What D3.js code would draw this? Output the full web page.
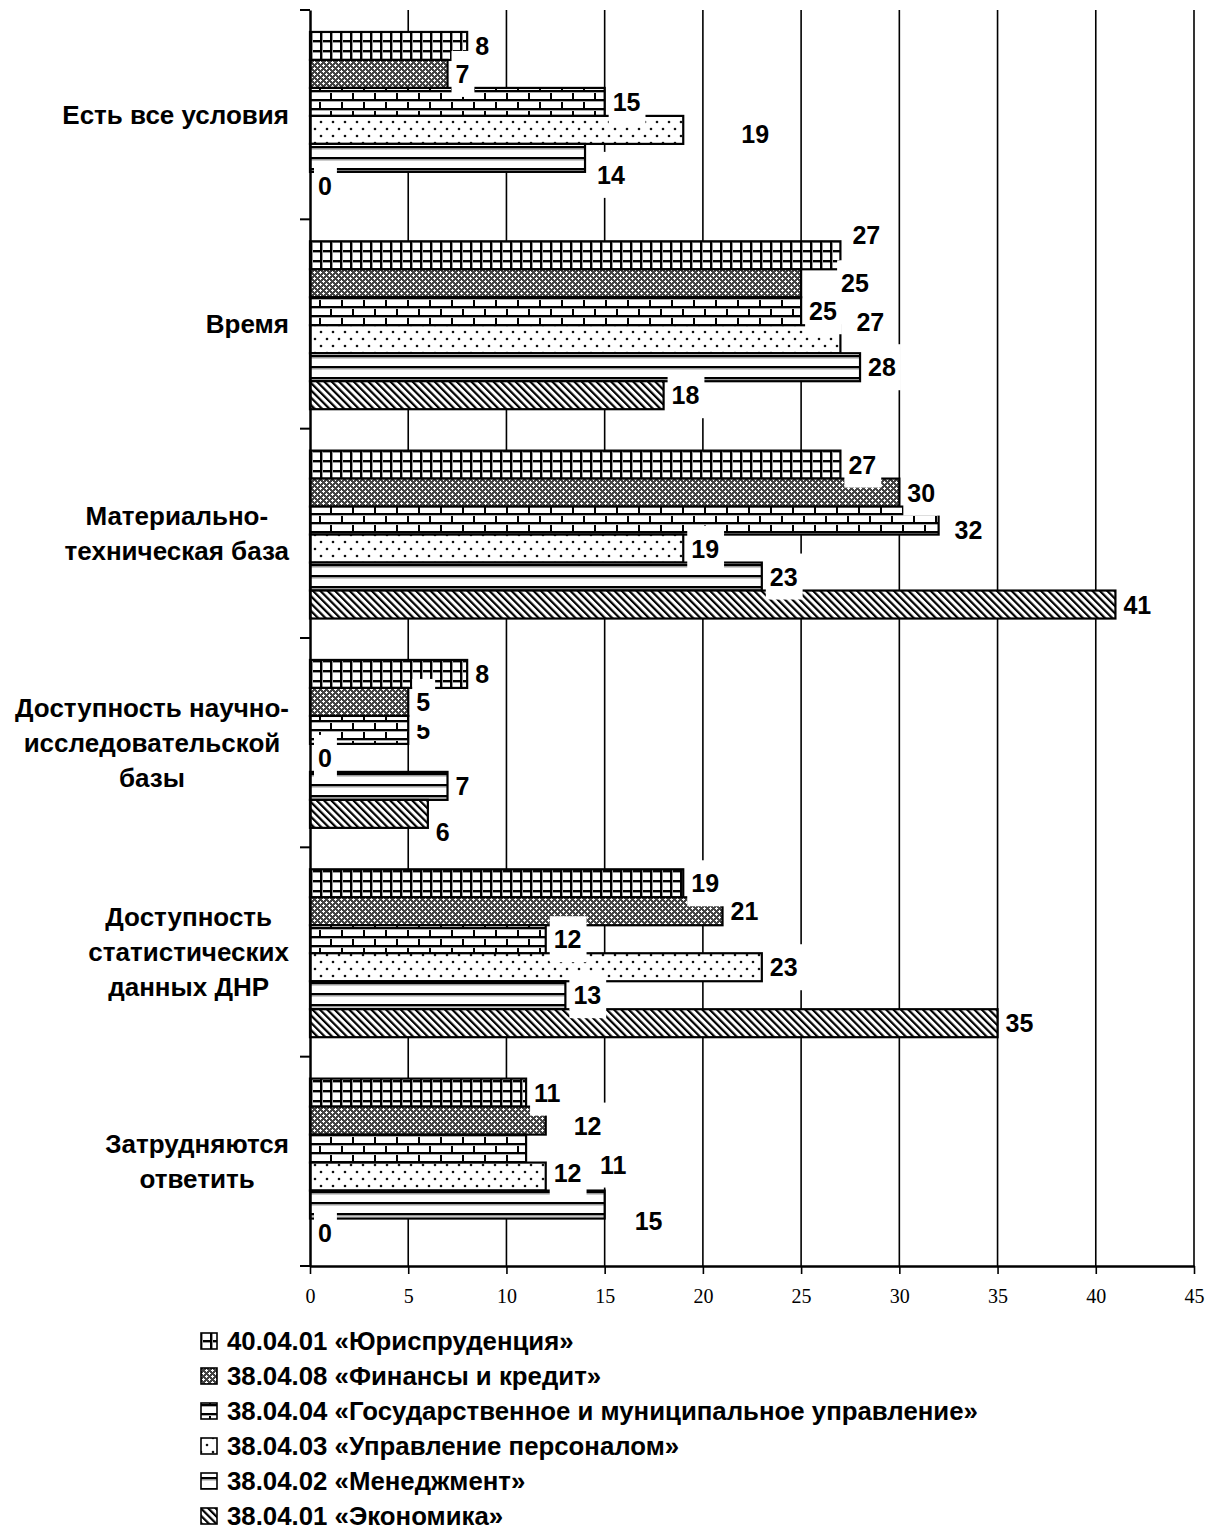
<!DOCTYPE html>
<html><head><meta charset="utf-8">
<script src="https://cdn.jsdelivr.net/npm/d3@7"></script>
<style>body{margin:0;background:#fff}</style>
</head><body><svg id="c" width="1217" height="1531"></svg>
<script>
// ---------- data ----------
const categories = ["Есть все условия", "Время", "Материально-техническая база",
  "Доступность научно-исследовательской базы", "Доступность статистических данных ДНР", "Затрудняются ответить"];
const categoryLines = [["Есть все условия"], ["Время"], ["Материально-", "техническая база"],
  ["Доступность научно-", "исследовательской", "базы"], ["Доступность", "статистических", "данных ДНР"],
  ["Затрудняются", "ответить"]];
const seriesNames = ["40.04.01 «Юриспруденция»", "38.04.08 «Финансы и кредит»",
  "38.04.04 «Государственное и муниципальное управление»", "38.04.03 «Управление персоналом»",
  "38.04.02 «Менеджмент»", "38.04.01 «Экономика»"];
const law        = [8, 27, 27, 8, 19, 11];
const finance    = [7, 25, 30, 5, 21, 12];
const stateMgmt  = [15, 25, 32, 5, 12, 11];
const personnel  = [19, 27, 19, 0, 23, 12];
const management = [14, 28, 23, 7, 13, 15];
const economics  = [0, 18, 41, 6, 35, 0];
const xTicks = [0, 5, 10, 15, 20, 25, 30, 35, 40, 45];
const seriesValues = [law, finance, stateMgmt, personnel, management, economics];

// label nudges (dx, dy) per series per category, as placed in the original
const labelNudge = [
  [[0,0],[4,-20],[0,0],[0,0],[0,0],[0,0]],
  [[0,0],[32,0],[0,0],[0,0],[0,0],[20,5]],
  [[0,0],[0,0],[8,9],[0,0],[0,0],[66,16]],
  [[50,4],[8,-17],[0,0],[0,0],[0,0],[0,-4]],
  [[4,17],[0,0],[0,0],[0,0],[0,0],[22,16]],
  [[0,0],[0,0],[0,0],[0,18],[0,0],[0,0]]
];
const patternIds = ["pGrid", "pCross", "pBrick", "pDots", "pHLines", "pDiag"];

// ---------- setup ----------
const svg = d3.select("#c");
const SANS = "Arial, 'Liberation Sans', sans-serif";
const SERIF = "'Times New Roman', 'Liberation Serif', serif";

const x = d3.scaleLinear().domain([0, 45]).range([310, 1194]);
const y = d3.scaleBand().domain(categories).range([10, 1266]).padding(0);
const ys = d3.scaleBand().domain(seriesNames).range([0, y.bandwidth()])
  .paddingInner(0).paddingOuter(0.74).align(0.53);

// ---------- patterns ----------
const defs = svg.append("defs");
function pattern(id, w, h, transform) {
  const p = defs.append("pattern").attr("id", id).attr("patternUnits", "userSpaceOnUse")
    .attr("width", w).attr("height", h);
  if (transform) p.attr("patternTransform", transform);
  p.append("rect").attr("width", w).attr("height", h).attr("fill", "#fff");
  return p;
}
function r(p, x0, y0, w, h, c) { p.append("rect").attr("x", x0).attr("y", y0).attr("width", w).attr("height", h).attr("fill", c || "#000"); }
// grid
let p = pattern("pGrid", 10, 10);
r(p, 0, 0, 10, 2); r(p, 0, 2, 10, 1, "#999"); r(p, 0, 0, 2, 10); r(p, 2, 0, 1, 10, "#999");
// cross-hatch dense
p = pattern("pCross", 6, 6);
r(p, 0, 0, 6, 6, "#444");
r(p, 1, 2, 3, 1, "#fff"); r(p, 2, 1, 1, 3, "#fff");
r(p, 4, 5, 2, 1, "#fff"); r(p, 0, 5, 1, 1, "#fff"); r(p, 5, 4, 1, 2, "#fff"); r(p, 5, 0, 1, 1, "#fff");
// brick
p = pattern("pBrick", 22, 18);
r(p, 0, 0, 22, 2); r(p, 0, 9, 22, 2); r(p, 0, 0, 2, 9); r(p, 11, 9, 2, 9);
r(p, 0, 2, 22, 1, "#aaa"); r(p, 0, 11, 22, 1, "#aaa");
// dots
p = pattern("pDots", 12, 14);
p.append("circle").attr("cx", 3).attr("cy", 3).attr("r", 1.3).attr("fill", "#111");
p.append("circle").attr("cx", 9).attr("cy", 10).attr("r", 1.3).attr("fill", "#111");
// horizontal lines
p = pattern("pHLines", 4, 11);
r(p, 0, 3, 4, 2); r(p, 0, 5, 4, 1.5, "#999");
// diagonal
p = pattern("pDiag", 5.2, 5.2, "rotate(-45)");
r(p, 0, 0, 2.2, 5.2);

// ---------- gridlines ----------
svg.append("g").selectAll("line").data(xTicks.filter(d => d > 0)).join("line")
  .attr("x1", d => x(d)).attr("x2", d => x(d))
  .attr("y1", y.range()[0]).attr("y2", y.range()[1])
  .attr("stroke", "#000").attr("stroke-width", 1.6);

// ---------- bars ----------
const barData = [];
seriesNames.forEach((s, si) => categories.forEach((c, ci) =>
  barData.push({ s, si, c, ci, v: seriesValues[si][ci] })));
svg.append("g").selectAll("rect").data(barData.filter(d => d.v > 0)).join("rect")
  .attr("x", x(0)).attr("y", d => y(d.c) + ys(d.s))
  .attr("width", d => x(d.v) - x(0)).attr("height", ys.bandwidth())
  .attr("fill", d => `url(#${patternIds[d.si]})`)
  .attr("stroke", "#000").attr("stroke-width", 2.2);

// ---------- axes ----------
const xAxis = svg.append("g").attr("transform", `translate(0,${y.range()[1]})`)
  .call(d3.axisBottom(x).tickValues(xTicks).tickSize(8).tickSizeOuter(0).tickFormat(d3.format("d")));
xAxis.select(".domain").attr("stroke-width", 2.5);
xAxis.selectAll(".tick line").attr("stroke-width", 1.6);
xAxis.selectAll(".tick text").attr("y", 23).attr("dy", "0.71em")
  .attr("font-family", SERIF).attr("font-size", 20).attr("fill", "#000");

const yAxis = svg.append("g").attr("transform", `translate(${x(0)},0)`)
  .call(d3.axisLeft(y).tickSize(0).tickFormat(""));
yAxis.select(".domain").attr("stroke-width", 2.5);
const bounds = categories.map(c => y(c)).concat([y.range()[1]]);
svg.append("g").selectAll("line").data(bounds).join("line")
  .attr("x1", x(0) - 10).attr("x2", x(0)).attr("y1", d => d).attr("y2", d => d)
  .attr("stroke", "#000").attr("stroke-width", 2);

// ---------- category labels ----------
const catG = svg.append("g");
categoryLines.forEach((lines, ci) => {
  const lh = 35;
  const cy = y(categories[ci]) + y.bandwidth() / 2;
  const texts = lines.map((t, li) =>
    catG.append("text").text(t)
      .attr("y", cy + (li - (lines.length - 1) / 2) * lh + 9.3)
      .attr("text-anchor", "middle")
      .attr("font-family", SANS).attr("font-weight", "bold").attr("font-size", 26).attr("fill", "#000"));
  const maxW = d3.max(texts, t => t.node().getComputedTextLength());
  texts.forEach(t => t.attr("x", 289 - maxW / 2));
});

// ---------- value labels ----------
const labG = svg.append("g");
for (let si = seriesNames.length - 1; si >= 0; si--) {
  categories.forEach((c, ci) => {
    const v = seriesValues[si][ci];
    const [dx, dy] = labelNudge[si][ci];
    const tx = x(v) + 8 + dx;
    const cy = y(c) + ys(seriesNames[si]) + ys.bandwidth() / 2 + dy;
    const g = labG.append("g");
    const rect = g.append("rect").attr("fill", "#fff");
    const t = g.append("text").text(v).attr("x", tx).attr("y", cy + 9)
      .attr("font-family", SANS).attr("font-weight", "bold").attr("font-size", 25).attr("fill", "#000");
    const w = t.node().getComputedTextLength();
    rect.attr("x", tx - 4).attr("y", cy - 23).attr("width", w + 9).attr("height", 46);
  });
}

// ---------- legend ----------
const leg = svg.append("g");
seriesNames.forEach((s, si) => {
  const cy = 1341 + si * 35;
  leg.append("rect").attr("x", 201).attr("y", cy - 8).attr("width", 16).attr("height", 16)
    .attr("fill", `url(#${patternIds[si]})`).attr("stroke", "#000").attr("stroke-width", 1.6);
  leg.append("text").text(s).attr("x", 227).attr("y", cy + 8.5)
    .attr("font-family", SANS).attr("font-weight", "bold").attr("font-size", 25.8).attr("fill", "#000");
});
</script></body></html>
